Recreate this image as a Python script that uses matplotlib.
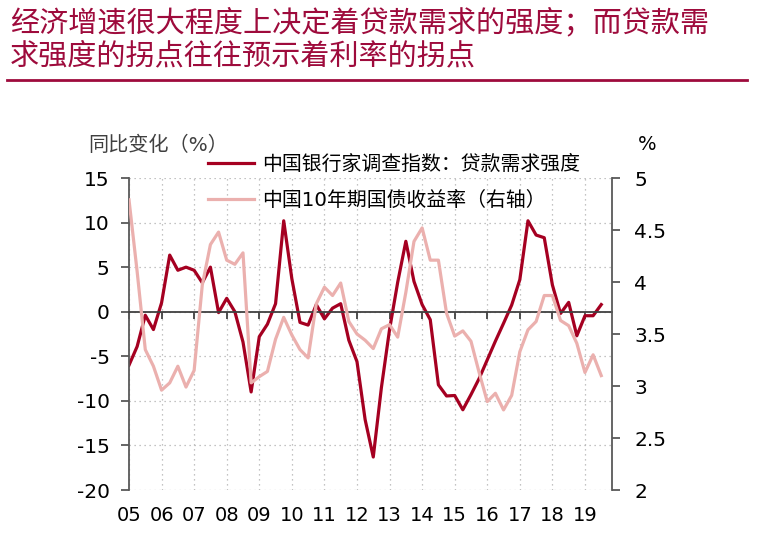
import matplotlib
matplotlib.use('Agg')
import matplotlib.pyplot as plt
import matplotlib.transforms as mtransforms
from matplotlib.lines import Line2D
import numpy as np

plt.rcParams['font.family'] = ['DejaVu Sans', 'Noto Sans CJK SC']

# quarterly data, 2005Q1 - 2019Q3
loan_demand = [-6.0, -3.9, -0.4, -2.0, 1.0, 6.35, 4.65, 5.0, 4.65, 3.25,
               5.0, -0.1, 1.5, 0.0, -3.4, -9.0, -2.8, -1.4, 0.9, 10.2,
               3.7, -1.2, -1.5, 0.8, -0.8, 0.4, 0.9, -3.2, -5.6, -12.1,
               -16.3, -8.5, -2.0, 3.3, 7.9, 3.4, 0.8, -0.9, -8.2, -9.45,
               -9.4, -11.0, -9.3, -7.5, -5.4, -3.3, -1.3, 0.75, 3.6, 10.2,
               8.6, 8.3, 3.0, -0.2, 1.05, -2.7, -0.45, -0.45, 0.8]
bond_yield = [4.79, 4.1, 3.35, 3.19, 2.96, 3.03, 3.19, 2.99, 3.15, 3.97,
              4.36, 4.48, 4.21, 4.17, 4.28, 3.03, 3.09, 3.14, 3.45, 3.66,
              3.49, 3.35, 3.27, 3.79, 3.95, 3.87, 3.99, 3.62, 3.50, 3.44,
              3.36, 3.55, 3.59, 3.47, 3.9, 4.39, 4.52, 4.21, 4.21, 3.70,
              3.48, 3.53, 3.43, 3.13, 2.85, 2.93, 2.77, 2.91, 3.33, 3.54,
              3.62, 3.87, 3.87, 3.63, 3.58, 3.41, 3.13, 3.30, 3.10]
quarters = 2005 + np.arange(len(loan_demand)) / 4
years = list(range(2005, 2020))
year_labels = ['%02d' % (y % 100) for y in years]
left_ticks = [15, 10, 5, 0, -5, -10, -15, -20]
right_ticks = [5, 4.5, 4, 3.5, 3, 2.5, 2]
right_labels = ['5', '4.5', '4', '3.5', '3', '2.5', '2']

title1 = '经济增速很大程度上决定着贷款需求的强度；而贷款需'
title2 = '求强度的拐点往往预示着利率的拐点'
label_red = '中国银行家调查指数：贷款需求强度'
label_pink = '中国10年期国债收益率（右轴）'

dark_red = '#A50021'
pink = '#EBB0AE'
title_color = '#9E0B3C'
axis_gray = '#595959'

fig = plt.figure(figsize=(7.61, 5.33), dpi=100)
ax = fig.add_axes([129/761, 43/533, 483/761, 312/533])
ax2 = ax.twinx()

l1, = ax.plot(quarters, loan_demand, color=dark_red, lw=2.3)
l2, = ax2.plot(quarters, bond_yield, color=pink, lw=2.3)

ax.set_xlim(2005, 2019.83)
ax.set_ylim(-20, 15)
ax2.set_ylim(2, 5)

ax.set_yticks(left_ticks)
ax.set_yticklabels([str(t) for t in left_ticks])
ax2.set_yticks(right_ticks)
ax2.set_yticklabels(right_labels)
ax.set_xticks(years)

# grid
ax.grid(True, linestyle=(0, (1, 3)), color='#B0B0B0', lw=0.9)
ax.set_axisbelow(True)

# spines
ax.spines['top'].set_visible(False)
ax.spines['right'].set_visible(False)
ax.spines['bottom'].set_position(('data', 0))
ax.spines['bottom'].set_color('#404040')
ax.spines['bottom'].set_linewidth(1.3)
ax.spines['left'].set_color(axis_gray)
ax.spines['left'].set_linewidth(1.3)
for s in ['top', 'bottom', 'left']:
    ax2.spines[s].set_visible(False)
ax2.spines['right'].set_color(axis_gray)
ax2.spines['right'].set_linewidth(1.3)

ax.tick_params(axis='x', direction='out', length=5, width=1.3, color='#404040',
               labelbottom=False)
ax.tick_params(axis='y', direction='out', length=6, width=1.3, color=axis_gray,
               labelsize=14.5, pad=8)
ax2.tick_params(axis='y', direction='out', length=6, width=1.3, color=axis_gray,
                labelsize=14.5, pad=10)

# year labels under the plot
trans = mtransforms.blended_transform_factory(ax.transData, ax.transAxes)
for y, lab in zip(years, year_labels):
    ax.text(y, -0.082, lab, transform=trans, ha='center', va='center', fontsize=14)

# axis units
fig.text(88/761, 1 - 145/533, '同比变化（%）', fontsize=14.5, color='#404040',
         va='center', ha='left')
fig.text(647/761, 1 - 145/533, '%', fontsize=14, va='center', ha='center')

# legend
fig.legend(handles=[l1, l2], labels=[label_red, label_pink], loc='upper left',
           bbox_to_anchor=(208/761, 1 - 155/533), frameon=False, fontsize=14.3,
           handlelength=2.3, handletextpad=0.4, labelspacing=0.85,
           borderpad=0, borderaxespad=0)

# title
fig.text(10/761, 1 - 23/533, title1, fontsize=21, color=title_color, va='center',
         family=['Noto Sans CJK SC', 'DejaVu Sans'])
fig.text(10/761, 1 - 56/533, title2, fontsize=21, color=title_color, va='center',
         family=['Noto Sans CJK SC', 'DejaVu Sans'])
fig.add_artist(Line2D([7/761, 747/761], [1 - 80/533, 1 - 80/533],
                      color=title_color, lw=2))

fig.savefig('out.png', dpi=100)
